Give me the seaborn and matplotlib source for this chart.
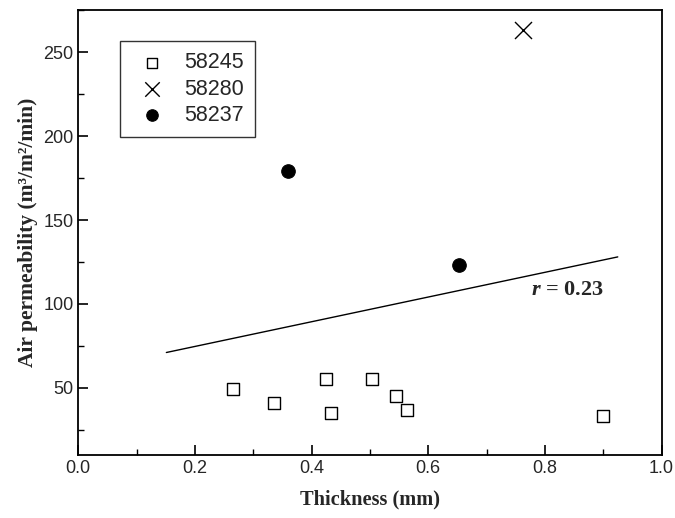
import matplotlib
matplotlib.use("Agg")
import matplotlib.pyplot as plt
import seaborn as sns
from matplotlib.ticker import MultipleLocator, FormatStrFormatter

# data
sq_thick = [0.265, 0.336, 0.424, 0.433, 0.504, 0.544, 0.564, 0.899]
sq_perm = [49, 41, 55, 35, 55, 45, 37, 33]
x_thick = [0.763]
x_perm = [263]
dot_thick = [0.359, 0.652]
dot_perm = [179, 123]
fit_thick = [0.151, 0.925]
fit_perm = [71, 128]

sns.set_style("white")
plt.rcParams["font.family"] = ["Liberation Sans", "DejaVu Sans"]
plt.rcParams["mathtext.fontset"] = "custom"
plt.rcParams["mathtext.it"] = "Liberation Serif:italic:bold"
plt.rcParams["mathtext.rm"] = "Liberation Serif:bold"

fig = plt.figure(figsize=(6.75, 5.18), dpi=100)
ax = fig.add_axes([0.116, 0.122, 0.864, 0.858])

sns.scatterplot(x=sq_thick, y=sq_perm, marker="s", s=85, facecolor="white",
                edgecolor="black", linewidth=1.0, label="58245", ax=ax)
sns.scatterplot(x=x_thick, y=x_perm, marker="x", s=150, color="black",
                linewidth=1.0, label="58280", ax=ax)
sns.scatterplot(x=dot_thick, y=dot_perm, marker="o", s=95, color="black",
                edgecolor="black", label="58237", ax=ax)
sns.lineplot(x=fit_thick, y=fit_perm, color="black", linewidth=1.0, ax=ax)

ax.text(0.776, 108, r"$\mathit{r}$ = 0.23", fontsize=16, fontweight="bold",
        family="Liberation Serif", ha="left", va="center")

ax.set_xlim(0.0, 1.0)
ax.set_ylim(10, 275)
ax.xaxis.set_major_locator(MultipleLocator(0.2))
ax.xaxis.set_minor_locator(MultipleLocator(0.1))
ax.yaxis.set_major_locator(MultipleLocator(50))
ax.yaxis.set_minor_locator(MultipleLocator(25))
ax.set_yticks([50, 100, 150, 200, 250])
ax.xaxis.set_major_formatter(FormatStrFormatter("%.1f"))

ax.tick_params(which="both", direction="in", top=False, right=False,
               bottom=True, left=True, color="black", labelsize=13)
ax.tick_params(which="major", length=7, width=1.2)
ax.tick_params(which="minor", length=4, width=1.0)

for spine in ax.spines.values():
    spine.set_visible(True)
    spine.set_color("black")
    spine.set_linewidth(1.3)

ax.set_xlabel("Thickness (mm)", fontsize=14.7, fontweight="bold",
              family="Liberation Serif", labelpad=9)
ax.set_ylabel("Air permeability (m³/m²/min)", fontsize=15.5, fontweight="bold",
              family="Liberation Serif", labelpad=4)

leg = ax.legend(loc="upper left", bbox_to_anchor=(0.071, 0.93), fontsize=15.5,
                frameon=True, fancybox=False, edgecolor="black",
                borderaxespad=0, handletextpad=0.5, borderpad=0.5,
                labelspacing=0.25, markerscale=0.85)
leg.get_frame().set_linewidth(1.0)

fig.savefig("out.png", dpi=100)
